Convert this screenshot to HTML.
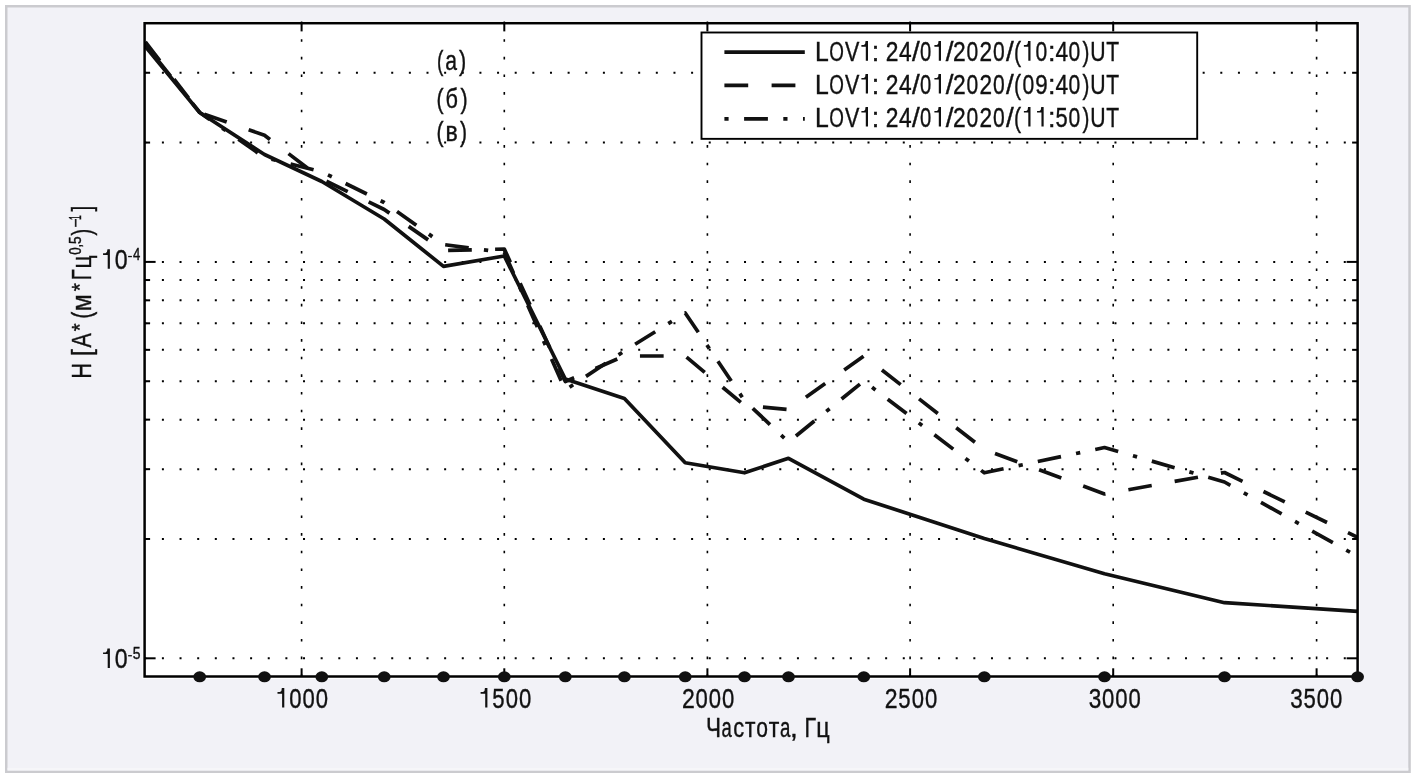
<!DOCTYPE html>
<html><head><meta charset="utf-8"><title>chart</title>
<style>html,body{margin:0;padding:0;background:#fff;overflow:hidden}svg{display:block;will-change:transform}</style>
</head><body>
<svg width="1416" height="778" viewBox="0 0 1416 778"><rect x="0" y="0" width="1416" height="778" fill="#ffffff"/>
<rect x="6.25" y="6.25" width="1403.3" height="765.5" fill="#f2f2f7" stroke="#cbcbcf" stroke-width="2.5"/>
<rect x="7.5" y="767.8" width="1400.8" height="2.7" fill="#f6f6f9"/>
<rect x="142.4" y="20.9" width="1217.4" height="657.9" fill="#ffffff"/>
<g stroke="#000" stroke-width="2" stroke-dasharray="2 15.64" fill="none"><line x1="144.26" y1="72.77" x2="1357.6" y2="72.77"/><line x1="144.26" y1="142.57" x2="1357.6" y2="142.57"/><line x1="144.26" y1="261.90" x2="1357.6" y2="261.90"/><line x1="144.26" y1="280.04" x2="1357.6" y2="280.04"/><line x1="144.26" y1="300.32" x2="1357.6" y2="300.32"/><line x1="144.26" y1="323.30" x2="1357.6" y2="323.30"/><line x1="144.26" y1="349.84" x2="1357.6" y2="349.84"/><line x1="144.26" y1="381.23" x2="1357.6" y2="381.23"/><line x1="144.26" y1="419.64" x2="1357.6" y2="419.64"/><line x1="144.26" y1="469.17" x2="1357.6" y2="469.17"/><line x1="144.26" y1="538.97" x2="1357.6" y2="538.97"/><line x1="144.26" y1="658.30" x2="1357.6" y2="658.30"/><line x1="301.60" y1="21.56" x2="301.60" y2="676.5" stroke-dasharray="2.6 15.04" stroke-width="1.6"/><line x1="504.30" y1="21.56" x2="504.30" y2="676.5" stroke-dasharray="2.6 15.04" stroke-width="1.6"/><line x1="707.40" y1="21.56" x2="707.40" y2="676.5" stroke-dasharray="2.6 15.04" stroke-width="1.6"/><line x1="910.10" y1="21.56" x2="910.10" y2="676.5" stroke-dasharray="2.6 15.04" stroke-width="1.6"/><line x1="1113.20" y1="21.56" x2="1113.20" y2="676.5" stroke-dasharray="2.6 15.04" stroke-width="1.6"/><line x1="1316.60" y1="21.56" x2="1316.60" y2="676.5" stroke-dasharray="2.6 15.04" stroke-width="1.6"/></g>
<g stroke="#000" stroke-width="2" fill="none"><line x1="144.6" y1="72.77" x2="150.1" y2="72.77"/><line x1="1357.6" y1="72.77" x2="1352.1" y2="72.77"/><line x1="144.6" y1="142.57" x2="150.1" y2="142.57"/><line x1="1357.6" y1="142.57" x2="1352.1" y2="142.57"/><line x1="144.6" y1="261.90" x2="155.6" y2="261.90"/><line x1="1357.6" y1="261.90" x2="1346.6" y2="261.90"/><line x1="144.6" y1="280.04" x2="150.1" y2="280.04"/><line x1="1357.6" y1="280.04" x2="1352.1" y2="280.04"/><line x1="144.6" y1="300.32" x2="150.1" y2="300.32"/><line x1="1357.6" y1="300.32" x2="1352.1" y2="300.32"/><line x1="144.6" y1="323.30" x2="150.1" y2="323.30"/><line x1="1357.6" y1="323.30" x2="1352.1" y2="323.30"/><line x1="144.6" y1="349.84" x2="150.1" y2="349.84"/><line x1="1357.6" y1="349.84" x2="1352.1" y2="349.84"/><line x1="144.6" y1="381.23" x2="150.1" y2="381.23"/><line x1="1357.6" y1="381.23" x2="1352.1" y2="381.23"/><line x1="144.6" y1="419.64" x2="150.1" y2="419.64"/><line x1="1357.6" y1="419.64" x2="1352.1" y2="419.64"/><line x1="144.6" y1="469.17" x2="150.1" y2="469.17"/><line x1="1357.6" y1="469.17" x2="1352.1" y2="469.17"/><line x1="144.6" y1="538.97" x2="150.1" y2="538.97"/><line x1="1357.6" y1="538.97" x2="1352.1" y2="538.97"/><line x1="144.6" y1="658.30" x2="155.6" y2="658.30"/><line x1="1357.6" y1="658.30" x2="1346.6" y2="658.30"/><line x1="301.6" y1="23.2" x2="301.6" y2="31.4"/><line x1="301.6" y1="676.5" x2="301.6" y2="668.3"/><line x1="504.3" y1="23.2" x2="504.3" y2="31.4"/><line x1="504.3" y1="676.5" x2="504.3" y2="668.3"/><line x1="707.4" y1="23.2" x2="707.4" y2="31.4"/><line x1="707.4" y1="676.5" x2="707.4" y2="668.3"/><line x1="910.1" y1="23.2" x2="910.1" y2="31.4"/><line x1="910.1" y1="676.5" x2="910.1" y2="668.3"/><line x1="1113.2" y1="23.2" x2="1113.2" y2="31.4"/><line x1="1113.2" y1="676.5" x2="1113.2" y2="668.3"/><line x1="1316.6" y1="23.2" x2="1316.6" y2="31.4"/><line x1="1316.6" y1="676.5" x2="1316.6" y2="668.3"/></g>
<defs><clipPath id="pc"><rect x="144.6" y="23.2" width="1213.0" height="653.3"/></clipPath></defs>
<g clip-path="url(#pc)" fill="none" stroke="#111" stroke-width="3.7" stroke-linejoin="round">
<path d="M145.0,46.0 L199.7,112.5 L264.5,154.5 L321.8,181.5 L384.2,219.0 L443.5,266.4 L504.3,256.0 L565.3,379.0 L624.4,398.5 L685.2,462.8 L744.5,472.8 L788.5,458.3 L863.8,499.2 L984.3,538.5 L1104.5,573.8 L1224.5,602.7 L1357.6,611.3"/>
<path d="M145.0,41.5 L199.7,112.5 L264.5,135.3 L321.8,179.0 L384.2,209.5 L443.5,250.5 L504.3,249.0 L565.3,381.5 L624.4,356.0 L685.2,356.0 L744.5,405.5 L788.5,409.5 L863.8,356.0 L984.3,449.5 L1104.5,494.0 L1224.5,472.5 L1357.6,537.4" stroke-dasharray="23.7 23.3" stroke-dashoffset="46.46"/>
<path d="M145.0,44.0 L199.7,112.5 L264.5,157.5 L321.8,171.8 L384.2,202.5 L443.5,244.5 L504.3,252.5 L565.3,390.0 L624.4,351.0 L685.2,313.0 L744.5,400.5 L788.5,442.0 L863.8,381.0 L984.3,472.8 L1104.5,447.5 L1224.5,482.0 L1357.6,556.5" stroke-dasharray="23.7 15.35 4.3 15.35" stroke-dashoffset="41.37"/>
</g>
<rect x="144.6" y="23.2" width="1213.0" height="653.3" fill="none" stroke="#000" stroke-width="2.5"/>
<g fill="#111"><ellipse cx="199.7" cy="676.8" rx="6.4" ry="5.5"/><ellipse cx="264.5" cy="676.8" rx="6.4" ry="5.5"/><ellipse cx="321.8" cy="676.8" rx="6.4" ry="5.5"/><ellipse cx="384.2" cy="676.8" rx="6.4" ry="5.5"/><ellipse cx="443.5" cy="676.8" rx="6.4" ry="5.5"/><ellipse cx="504.3" cy="676.8" rx="6.4" ry="5.5"/><ellipse cx="565.3" cy="676.8" rx="6.4" ry="5.5"/><ellipse cx="624.4" cy="676.8" rx="6.4" ry="5.5"/><ellipse cx="685.2" cy="676.8" rx="6.4" ry="5.5"/><ellipse cx="744.5" cy="676.8" rx="6.4" ry="5.5"/><ellipse cx="788.5" cy="676.8" rx="6.4" ry="5.5"/><ellipse cx="863.8" cy="676.8" rx="6.4" ry="5.5"/><ellipse cx="984.3" cy="676.8" rx="6.4" ry="5.5"/><ellipse cx="1104.5" cy="676.8" rx="6.4" ry="5.5"/><ellipse cx="1224.5" cy="676.8" rx="6.4" ry="5.5"/><ellipse cx="1357.6" cy="676.8" rx="6.4" ry="5.5"/></g>
<rect x="701.5" y="32.5" width="495.70000000000005" height="106.35" fill="#fff" stroke="#000" stroke-width="1.9"/>
<g stroke="#111" stroke-width="3.7" fill="none"><line x1="724.4" y1="52.05" x2="804.8" y2="52.05"/><line x1="724.4" y1="85.4" x2="804.8" y2="85.4" stroke-dasharray="23.8 23.4"/><line x1="724.4" y1="118.8" x2="804.8" y2="118.8" stroke-dasharray="4.2 15.5 23.8 15.4"/></g>
<g font-family="Liberation Sans" fill="#111" stroke="#111" stroke-width="0.4"><text transform="translate(815.12,60.70) scale(0.8847,1)" font-size="28">L</text><text transform="translate(829.36,60.70) scale(0.6723,1)" font-size="28">O</text><text transform="translate(844.88,60.70) scale(0.7692,1)" font-size="28">V</text><path stroke="none" d="M865.80,41.10 L868.00,41.10 L868.00,60.70 L865.80,60.70 L865.80,46.78 L861.40,46.78 L861.40,45.12 L863.78,45.12 Q865.67,44.43 865.54,41.10 Z"/><text transform="translate(871.77,60.70) scale(0.9643,1)" font-size="28">:</text><text transform="translate(885.86,60.70) scale(0.8152,1)" font-size="28">2</text><text transform="translate(899.05,60.70) scale(0.8123,1)" font-size="28">4</text><text transform="translate(911.90,60.70) scale(0.9949,1)" font-size="28">/</text><text transform="translate(919.99,60.70) scale(0.7217,1)" font-size="28">0</text><path stroke="none" d="M938.80,41.10 L941.00,41.10 L941.00,60.70 L938.80,60.70 L938.80,46.78 L934.40,46.78 L934.40,45.12 L936.78,45.12 Q938.67,44.43 938.54,41.10 Z"/><text transform="translate(945.70,60.70) scale(0.9949,1)" font-size="28">/</text><text transform="translate(953.06,60.70) scale(0.8152,1)" font-size="28">2</text><text transform="translate(966.56,60.70) scale(0.7515,1)" font-size="28">0</text><text transform="translate(979.57,60.70) scale(0.8075,1)" font-size="28">2</text><text transform="translate(993.06,60.70) scale(0.7515,1)" font-size="28">0</text><text transform="translate(1005.90,60.70) scale(0.9949,1)" font-size="28">/</text><text transform="translate(1014.03,60.70) scale(0.7555,1)" font-size="28">(</text><path stroke="none" d="M1028.30,41.10 L1030.50,41.10 L1030.50,60.70 L1028.30,60.70 L1028.30,46.78 L1023.90,46.78 L1023.90,45.12 L1026.28,45.12 Q1028.17,44.43 1028.04,41.10 Z"/><text transform="translate(1035.56,60.70) scale(0.7515,1)" font-size="28">0</text><text transform="translate(1047.97,60.70) scale(0.9643,1)" font-size="28">:</text><text transform="translate(1055.40,60.70) scale(0.8123,1)" font-size="28">4</text><text transform="translate(1068.56,60.70) scale(0.7515,1)" font-size="28">0</text><text transform="translate(1082.39,60.70) scale(0.7418,1)" font-size="28">)</text><text transform="translate(1090.20,60.70) scale(0.7581,1)" font-size="28">U</text><text transform="translate(1106.28,60.70) scale(0.7519,1)" font-size="28">T</text><text transform="translate(815.12,93.50) scale(0.8847,1)" font-size="28">L</text><text transform="translate(829.36,93.50) scale(0.6723,1)" font-size="28">O</text><text transform="translate(844.88,93.50) scale(0.7692,1)" font-size="28">V</text><path stroke="none" d="M865.80,73.90 L868.00,73.90 L868.00,93.50 L865.80,93.50 L865.80,79.58 L861.40,79.58 L861.40,77.92 L863.78,77.92 Q865.67,77.23 865.54,73.90 Z"/><text transform="translate(871.77,93.50) scale(0.9643,1)" font-size="28">:</text><text transform="translate(885.86,93.50) scale(0.8152,1)" font-size="28">2</text><text transform="translate(899.05,93.50) scale(0.8123,1)" font-size="28">4</text><text transform="translate(911.90,93.50) scale(0.9949,1)" font-size="28">/</text><text transform="translate(919.99,93.50) scale(0.7217,1)" font-size="28">0</text><path stroke="none" d="M938.80,73.90 L941.00,73.90 L941.00,93.50 L938.80,93.50 L938.80,79.58 L934.40,79.58 L934.40,77.92 L936.78,77.92 Q938.67,77.23 938.54,73.90 Z"/><text transform="translate(945.70,93.50) scale(0.9949,1)" font-size="28">/</text><text transform="translate(953.06,93.50) scale(0.8152,1)" font-size="28">2</text><text transform="translate(966.56,93.50) scale(0.7515,1)" font-size="28">0</text><text transform="translate(979.57,93.50) scale(0.8075,1)" font-size="28">2</text><text transform="translate(993.06,93.50) scale(0.7515,1)" font-size="28">0</text><text transform="translate(1005.90,93.50) scale(0.9949,1)" font-size="28">/</text><text transform="translate(1014.03,93.50) scale(0.7555,1)" font-size="28">(</text><text transform="translate(1022.41,93.50) scale(0.7515,1)" font-size="28">0</text><text transform="translate(1035.18,93.50) scale(0.7997,1)" font-size="28">9</text><text transform="translate(1047.97,93.50) scale(0.9643,1)" font-size="28">:</text><text transform="translate(1055.40,93.50) scale(0.8123,1)" font-size="28">4</text><text transform="translate(1068.56,93.50) scale(0.7515,1)" font-size="28">0</text><text transform="translate(1082.39,93.50) scale(0.7418,1)" font-size="28">)</text><text transform="translate(1090.20,93.50) scale(0.7581,1)" font-size="28">U</text><text transform="translate(1106.28,93.50) scale(0.7519,1)" font-size="28">T</text><text transform="translate(815.12,126.50) scale(0.8847,1)" font-size="28">L</text><text transform="translate(829.36,126.50) scale(0.6723,1)" font-size="28">O</text><text transform="translate(844.88,126.50) scale(0.7692,1)" font-size="28">V</text><path stroke="none" d="M865.80,106.90 L868.00,106.90 L868.00,126.50 L865.80,126.50 L865.80,112.58 L861.40,112.58 L861.40,110.92 L863.78,110.92 Q865.67,110.23 865.54,106.90 Z"/><text transform="translate(871.77,126.50) scale(0.9643,1)" font-size="28">:</text><text transform="translate(885.86,126.50) scale(0.8152,1)" font-size="28">2</text><text transform="translate(899.05,126.50) scale(0.8123,1)" font-size="28">4</text><text transform="translate(911.90,126.50) scale(0.9949,1)" font-size="28">/</text><text transform="translate(919.99,126.50) scale(0.7217,1)" font-size="28">0</text><path stroke="none" d="M938.80,106.90 L941.00,106.90 L941.00,126.50 L938.80,126.50 L938.80,112.58 L934.40,112.58 L934.40,110.92 L936.78,110.92 Q938.67,110.23 938.54,106.90 Z"/><text transform="translate(945.70,126.50) scale(0.9949,1)" font-size="28">/</text><text transform="translate(953.06,126.50) scale(0.8152,1)" font-size="28">2</text><text transform="translate(966.56,126.50) scale(0.7515,1)" font-size="28">0</text><text transform="translate(979.57,126.50) scale(0.8075,1)" font-size="28">2</text><text transform="translate(993.06,126.50) scale(0.7515,1)" font-size="28">0</text><text transform="translate(1005.90,126.50) scale(0.9949,1)" font-size="28">/</text><text transform="translate(1014.03,126.50) scale(0.7555,1)" font-size="28">(</text><path stroke="none" d="M1028.30,106.90 L1030.50,106.90 L1030.50,126.50 L1028.30,126.50 L1028.30,112.58 L1023.90,112.58 L1023.90,110.92 L1026.28,110.92 Q1028.17,110.23 1028.04,106.90 Z"/><path stroke="none" d="M1041.45,106.90 L1043.65,106.90 L1043.65,126.50 L1041.45,126.50 L1041.45,112.58 L1037.05,112.58 L1037.05,110.92 L1039.43,110.92 Q1041.32,110.23 1041.19,106.90 Z"/><text transform="translate(1047.97,126.50) scale(0.9643,1)" font-size="28">:</text><text transform="translate(1055.53,126.50) scale(0.7812,1)" font-size="28">5</text><text transform="translate(1068.56,126.50) scale(0.7515,1)" font-size="28">0</text><text transform="translate(1082.39,126.50) scale(0.7418,1)" font-size="28">)</text><text transform="translate(1090.20,126.50) scale(0.7581,1)" font-size="28">U</text><text transform="translate(1106.28,126.50) scale(0.7519,1)" font-size="28">T</text><text transform="translate(436.96,69.70) scale(0.6799,1)" font-size="28">(</text><text transform="translate(445.15,69.70) scale(0.7555,1)" font-size="28">а</text><text transform="translate(459.03,69.70) scale(0.7761,1)" font-size="28">)</text><text transform="translate(436.53,107.80) scale(0.7555,1)" font-size="28">(</text><text transform="translate(445.40,107.80) scale(0.7751,1)" font-size="28">б</text><text transform="translate(460.48,107.80) scale(0.7692,1)" font-size="28">)</text><text transform="translate(436.53,140.80) scale(0.7555,1)" font-size="28">(</text><text transform="translate(445.58,140.80) scale(0.8248,1)" font-size="28">в</text><text transform="translate(460.09,140.80) scale(0.7555,1)" font-size="28">)</text><path stroke="none" d="M282.10,688.00 L284.30,688.00 L284.30,707.60 L282.10,707.60 L282.10,693.68 L277.50,693.68 L277.50,692.02 L279.95,692.02 Q281.97,691.33 281.83,688.00 Z"/><text transform="translate(289.27,707.60) scale(0.7887,1)" font-size="28">0</text><text transform="translate(302.57,707.60) scale(0.7887,1)" font-size="28">0</text><text transform="translate(315.87,707.60) scale(0.7887,1)" font-size="28">0</text><path stroke="none" d="M485.20,688.00 L487.40,688.00 L487.40,707.60 L485.20,707.60 L485.20,693.68 L480.60,693.68 L480.60,692.02 L483.05,692.02 Q485.07,691.33 484.93,688.00 Z"/><text transform="translate(492.37,707.60) scale(0.7887,1)" font-size="28">5</text><text transform="translate(505.67,707.60) scale(0.7887,1)" font-size="28">0</text><text transform="translate(518.97,707.60) scale(0.7887,1)" font-size="28">0</text><text transform="translate(681.95,707.60) scale(0.8230,1)" font-size="28">2</text><text transform="translate(695.52,707.60) scale(0.7887,1)" font-size="28">0</text><text transform="translate(708.82,707.60) scale(0.7887,1)" font-size="28">0</text><text transform="translate(722.12,707.60) scale(0.7887,1)" font-size="28">0</text><text transform="translate(884.80,707.60) scale(0.8230,1)" font-size="28">2</text><text transform="translate(898.37,707.60) scale(0.7887,1)" font-size="28">5</text><text transform="translate(911.67,707.60) scale(0.7887,1)" font-size="28">0</text><text transform="translate(924.97,707.60) scale(0.7887,1)" font-size="28">0</text><text transform="translate(1088.70,707.60) scale(0.8055,1)" font-size="28">3</text><text transform="translate(1102.02,707.60) scale(0.7887,1)" font-size="28">0</text><text transform="translate(1115.32,707.60) scale(0.7887,1)" font-size="28">0</text><text transform="translate(1128.62,707.60) scale(0.7887,1)" font-size="28">0</text><text transform="translate(1290.20,707.60) scale(0.8055,1)" font-size="28">3</text><text transform="translate(1303.52,707.60) scale(0.7887,1)" font-size="28">5</text><text transform="translate(1316.82,707.60) scale(0.7887,1)" font-size="28">0</text><text transform="translate(1330.12,707.60) scale(0.7887,1)" font-size="28">0</text><text transform="translate(706.00,736.70) scale(0.8053,1)" font-size="28">Ч</text><text transform="translate(721.56,736.70) scale(0.6593,1)" font-size="28">а</text><text transform="translate(733.33,736.70) scale(0.7807,1)" font-size="28">с</text><text transform="translate(745.04,736.70) scale(0.8163,1)" font-size="28">т</text><text transform="translate(756.36,736.70) scale(0.7515,1)" font-size="28">о</text><text transform="translate(768.64,736.70) scale(0.8248,1)" font-size="28">т</text><text transform="translate(780.05,736.70) scale(0.6662,1)" font-size="28">а</text><text transform="translate(789.98,736.70) scale(1.0000,1)" font-size="28">,</text><text transform="translate(804.59,736.70) scale(0.7630,1)" font-size="28">Г</text><text transform="translate(816.16,736.70) scale(0.8371,1)" font-size="28">ц</text><path stroke="none" d="M107.70,249.20 L109.90,249.20 L109.90,268.80 L107.70,268.80 L107.70,254.88 L103.06,254.88 L103.06,253.22 L105.52,253.22 Q107.57,252.53 107.43,249.20 Z"/><text transform="translate(114.78,268.80) scale(0.8259,1)" font-size="28">0</text><rect stroke="none" x="128.1" y="255.90" width="3.8" height="1.3"/><text transform="translate(133.04,259.80) scale(0.8011,1)" font-size="16.4">4</text><path stroke="none" d="M107.70,648.40 L109.90,648.40 L109.90,668.00 L107.70,668.00 L107.70,654.08 L103.06,654.08 L103.06,652.42 L105.52,652.42 Q107.57,651.73 107.43,648.40 Z"/><text transform="translate(114.78,668.00) scale(0.8259,1)" font-size="28">0</text><rect stroke="none" x="128.1" y="655.10" width="3.8" height="1.3"/><text transform="translate(132.74,659.00) scale(0.8511,1)" font-size="16.4">5</text></g>
<g font-family="Liberation Sans" fill="#111" stroke="#111" stroke-width="0.4"><text transform="translate(90.90,378.74) rotate(-90) scale(0.7781,1)" font-size="28">H</text><text transform="translate(90.90,356.29) rotate(-90) scale(0.9107,1)" font-size="28">[</text><text transform="translate(90.90,347.50) rotate(-90) scale(0.7684,1)" font-size="28">A</text><text transform="translate(86.80,331.21) rotate(-90) scale(0.9221,1)" font-size="22">*</text><text transform="translate(90.90,318.52) rotate(-90) scale(0.7280,1)" font-size="28">(</text><text transform="translate(90.90,311.33) rotate(-90) scale(0.8831,1)" font-size="28">м</text><text transform="translate(86.80,291.32) rotate(-90) scale(0.9481,1)" font-size="22">*</text><text transform="translate(90.90,280.22) rotate(-90) scale(0.7224,1)" font-size="28">Г</text><text transform="translate(90.90,268.60) rotate(-90) scale(0.8185,1)" font-size="28">ц</text><text transform="translate(80.70,254.83) rotate(-90) scale(0.8333,1)" font-size="16">0</text><text transform="translate(80.70,247.44) rotate(-90) scale(0.8000,1)" font-size="16">,</text><text transform="translate(80.70,243.94) rotate(-90) scale(0.8464,1)" font-size="16">5</text><text transform="translate(90.90,235.50) rotate(-90) scale(0.7143,1)" font-size="28">)</text><text transform="translate(80.70,227.70) rotate(-90) scale(0.9949,1)" font-size="16">−</text><text transform="translate(80.70,219.89) rotate(-90) scale(0.5378,1)" font-size="16">1</text><text transform="translate(90.90,211.41) rotate(-90) scale(0.7500,1)" font-size="28">]</text></g></svg>
</body></html>
